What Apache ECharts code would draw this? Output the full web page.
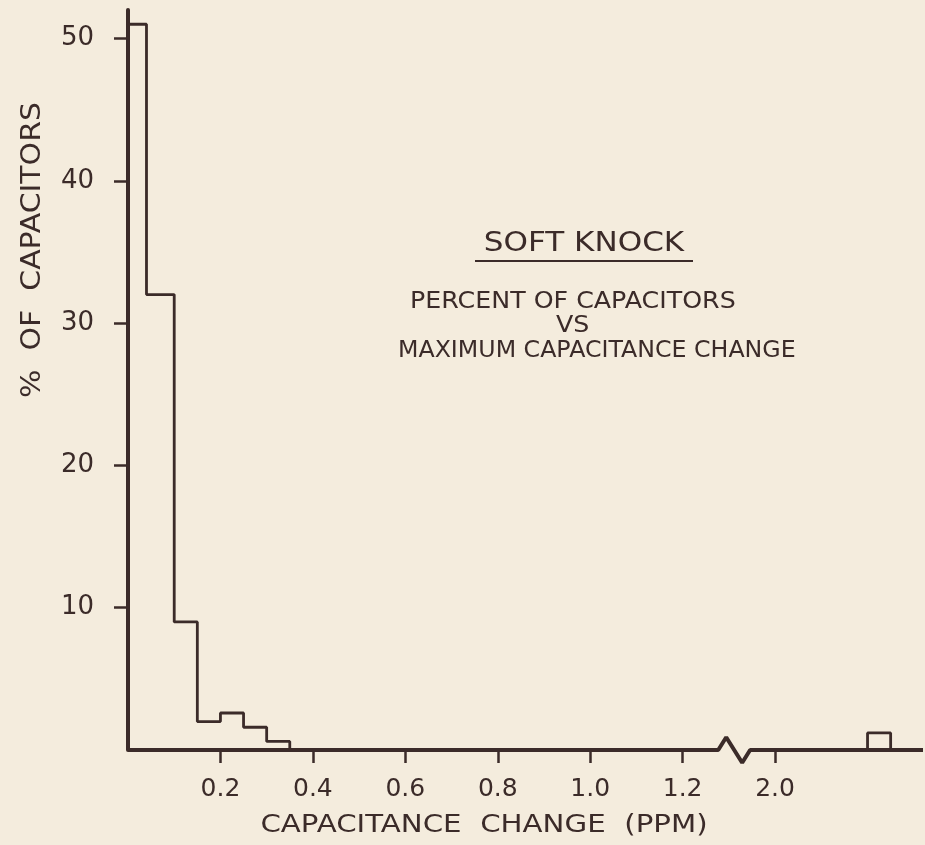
<!DOCTYPE html>
<html>
<head>
<meta charset="utf-8">
<script src="https://cdn.jsdelivr.net/npm/echarts@6.0.0/dist/echarts.min.js"></script>
<style>
  html, body { margin: 0; padding: 0; background: #f4ecdd; }
  #chart { width: 925px; height: 845px; }
</style>
</head>
<body>
<div id="chart"></div>
<script>
// histogram bins (ppm) and percent of capacitors in each
var binEdges = [0, 0.04, 0.10, 0.15, 0.20, 0.25, 0.30, 0.35];
var percents = [51.0, 32.0, 9.0, 2.0, 2.6, 1.6, 0.6];
// the lone bin past the axis break
var farBinEdges = [2.20, 2.25];
var farPercents = [1.2];

var yTicks = [10, 20, 30, 40, 50];
var xTicks = [0.2, 0.4, 0.6, 0.8, 1.0, 1.2, 2.0];

// axis break: 1.3 .. 1.9 ppm is cut out of the scale
var breakFrom = 1.3, breakTo = 1.9;
var breakShift = 0.6;
var xMaxShown = 1.72;

var ink = '#3b2b29';
var font = 'DejaVu Sans';

function toAxis(v) {
    return v >= breakTo ? v - breakShift : v;
}

// build step outline from bins
function outline(edges, vals) {
    var pts = [];
    for (var i = 0; i < vals.length; i++) {
        var x0 = toAxis(edges[i]), x1 = toAxis(edges[i + 1]);
        if (i == 0) pts.push([x0, 0]);
        pts.push([x0, vals[i]]);
        pts.push([x1, vals[i]]);
    }
    pts.push([toAxis(edges[edges.length - 1]), 0]);
    return pts;
}

// baseline with the little zigzag at the break
var zigA = 1.277, zigB = 1.346, zigH = 0.9;
var zigW = (zigB - zigA) / 4;
var baseline = [
    [0, 0], [zigA, 0],
    [zigA + zigW, zigH],
    [zigB - zigW, -zigH],
    [zigB, 0], [xMaxShown, 0]
];

var chart = echarts.init(document.getElementById('chart'));

var option = {
    backgroundColor: '#f4ecdd',
    animation: false,
    grid: { left: 128, right: 2, top: 10, bottom: 95 },
    xAxis: {
        type: 'value',
        min: 0,
        max: xMaxShown,
        splitLine: { show: false },
        axisLine: { show: false },
        axisTick: {
            show: true,
            customValues: xTicks.map(toAxis),
            length: 13,
            lineStyle: { color: ink, width: 2.5 }
        },
        axisLabel: {
            customValues: xTicks.map(toAxis),
            margin: 27,
            color: ink,
            fontFamily: font,
            fontSize: 25,
            formatter: function (v) {
                var real = v > breakFrom - 0.05 ? v + breakShift : v;
                return real.toFixed(1);
            }
        }
    },
    yAxis: {
        type: 'value',
        min: 0,
        max: 52,
        splitLine: { show: false },
        axisLine: { show: true, lineStyle: { color: ink, width: 4 } },
        axisTick: {
            show: true,
            customValues: yTicks,
            length: 14,
            lineStyle: { color: ink, width: 2.5 }
        },
        axisLabel: {
            customValues: yTicks,
            margin: 34,
            color: ink,
            fontFamily: font,
            fontSize: 26
        }
    },
    graphic: [
        {
            type: 'text', x: 33, y: 250, rotation: Math.PI / 2, scaleX: 1.15,
            style: { text: '%  OF  CAPACITORS', fill: ink, font: '26px ' + font, align: 'center', verticalAlign: 'middle' }
        },
        {
            type: 'text', x: 484, y: 825, scaleX: 1.17,
            style: { text: 'CAPACITANCE  CHANGE  (PPM)', fill: ink, font: '25px ' + font, align: 'center', verticalAlign: 'middle' }
        },
        {
            type: 'text', x: 584, y: 244, scaleX: 1.15,
            style: { text: 'SOFT KNOCK', fill: ink, font: '27px ' + font, align: 'center', verticalAlign: 'middle' }
        },
        {
            type: 'line', shape: { x1: 475, y1: 261, x2: 693, y2: 261 },
            style: { stroke: ink, lineWidth: 2 }
        },
        {
            type: 'text', x: 410, y: 302, scaleX: 1.1,
            style: { text: 'PERCENT OF CAPACITORS', fill: ink, font: '23px ' + font, align: 'left', verticalAlign: 'middle' }
        },
        {
            type: 'text', x: 556, y: 326, scaleX: 1.1,
            style: { text: 'VS', fill: ink, font: '23px ' + font, align: 'left', verticalAlign: 'middle' }
        },
        {
            type: 'text', x: 398, y: 351, scaleX: 1.03,
            style: { text: 'MAXIMUM CAPACITANCE CHANGE', fill: ink, font: '23px ' + font, align: 'left', verticalAlign: 'middle' }
        }
    ],
    series: [
        {
            name: 'baseline',
            type: 'line',
            data: baseline,
            showSymbol: false,
            clip: false,
            silent: true,
            lineStyle: { color: ink, width: 4 }
        },
        {
            name: 'histogram',
            type: 'line',
            data: outline(binEdges, percents),
            showSymbol: false,
            clip: false,
            lineStyle: { color: ink, width: 2.8 }
        },
        {
            name: 'histogram far',
            type: 'line',
            data: outline(farBinEdges, farPercents),
            showSymbol: false,
            clip: false,
            lineStyle: { color: ink, width: 2.8 }
        }
    ]
};
chart.setOption(option);
</script>
</body>
</html>
